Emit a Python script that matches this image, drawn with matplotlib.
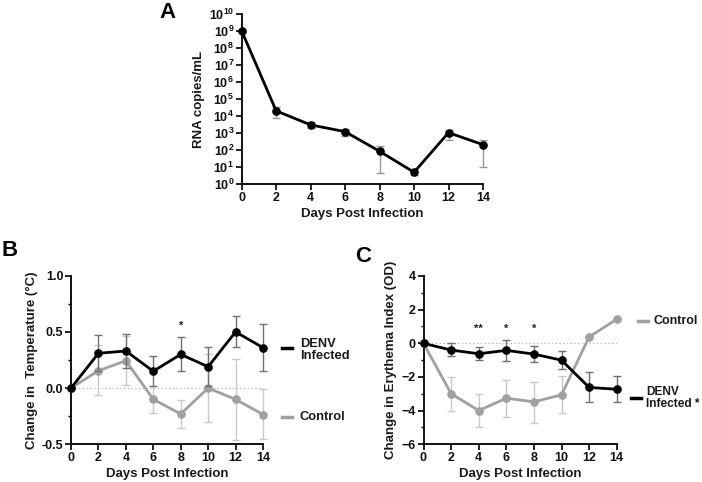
import numpy as np
import matplotlib
matplotlib.use("Agg")
import matplotlib.pyplot as plt
from matplotlib.lines import Line2D
from matplotlib.ticker import FixedLocator, MultipleLocator

plt.rcParams['font.family'] = ['Liberation Sans', 'DejaVu Sans']
plt.rcParams['font.weight'] = 'bold'
plt.rcParams['mathtext.fontset'] = 'custom'
plt.rcParams['mathtext.rm'] = 'Liberation Sans:bold'
plt.rcParams['mathtext.bf'] = 'Liberation Sans:bold'

# ---------------- data ----------------
days = [0, 2, 4, 6, 8, 10, 12, 14]

# Panel A: viral RNA
rna = [1e9, 2.0e4, 3.0e3, 1.2e3, 84, 4.9, 1.05e3, 205]
rna_hi = [1e9, 3.4e4, 4.3e3, 1.75e3, 170, 6.6, 1.6e3, 400]
rna_lo = [1e9, 8.0e3, 2.1e3, 6.6e2, 4.4, 3.5, 4.0e2, 10]

# Panel B: temperature change
temp_denv = [0, 0.31, 0.33, 0.15, 0.30, 0.19, 0.50, 0.36]
temp_denv_hi = [0, 0.47, 0.485, 0.285, 0.455, 0.365, 0.645, 0.573]
temp_denv_lo = [0, 0.15, 0.18, 0.02, 0.148, 0.02, 0.362, 0.148]
temp_ctrl = [0, 0.155, 0.243, -0.10, -0.23, 0.0, -0.10, -0.235]
temp_ctrl_hi = [0, 0.38, 0.46, 0.02, -0.107, 0.30, 0.26, -0.01]
temp_ctrl_lo = [0, -0.065, 0.027, -0.225, -0.353, -0.30, -0.46, -0.45]
temp_star_days = [8]
temp_star_text = ['*']
temp_star_y = [0.55]

# Panel C: erythema index change
ery_denv = [0, -0.40, -0.62, -0.42, -0.64, -1.0, -2.62, -2.73]
ery_denv_hi = [0, 0.04, -0.20, 0.20, -0.14, -0.46, -1.73, -1.97]
ery_denv_lo = [0, -0.76, -0.98, -1.03, -1.13, -1.53, -3.46, -3.48]
ery_ctrl = [0, -2.99, -4.0, -3.26, -3.48, -3.06, 0.38, 1.43]
ery_ctrl_hi = [0, -1.99, -3.02, -2.19, -2.31, -1.97, 0.38, 1.43]
ery_ctrl_lo = [0, -4.0, -4.96, -4.4, -4.72, -4.16, 0.38, 1.43]
ery_star_days = [4, 6, 8]
ery_star_text = ['**', '*', '*']
ery_star_y = [0.85, 0.85, 0.85]

xticks = [0, 2, 4, 6, 8, 10, 12, 14]
xlabel = 'Days Post Infection'

# ---------------- figure ----------------
W, H = 702, 482
fig = plt.figure(figsize=(W / 100, H / 100), dpi=100)

def add_ax(left, right, top, bottom):
    return fig.add_axes([left / W, 1 - bottom / H, (right - left) / W, (bottom - top) / H])

BLACK = '#000000'
GRAY = '#a0a0a0'
DERR = '#707070'
CERR = '#c8c8c8'
TXT = '#1a1a1a'
MS = 5.2

def style(ax):
    for s in ['top', 'right']:
        ax.spines[s].set_visible(False)
    for s in ['left', 'bottom']:
        ax.spines[s].set_linewidth(1.4)
        ax.spines[s].set_color('#111111')
    ax.tick_params(axis='both', which='major', length=4, width=1.3, direction='out',
                   labelsize=9, colors='#111111', pad=1.5)
    ax.tick_params(axis='both', which='minor', length=2.5, width=1.0, direction='out')
    ax.set_xlim(0, 14)
    ax.xaxis.set_major_locator(FixedLocator(xticks))
    ax.set_xlabel(xlabel, fontsize=9.5, fontweight='bold', color=TXT, labelpad=3)
    for lab in ax.get_xticklabels() + ax.get_yticklabels():
        lab.set_fontweight('bold')

def errbars(ax, y, hi, lo, color, z):
    y = np.array(y); hi = np.array(hi); lo = np.array(lo)
    ax.errorbar(days, y, yerr=[y - lo, hi - y], fmt='none', ecolor=color,
                elinewidth=1.0, capsize=3, capthick=1.0, zorder=z, clip_on=False)

# ---- Panel A ----
axA = add_ax(241.7, 483, 14, 184)
axA.set_yscale('log')
axA.set_ylim(1, 1e10)
errbars(axA, rna, rna_hi, rna_lo, '#999999', 2)
axA.plot(days, rna, color=BLACK, lw=2.0, marker='o', ms=MS, zorder=3, clip_on=False)
axA.yaxis.set_major_locator(FixedLocator([10.0 ** k for k in range(11)]))
axA.yaxis.set_minor_locator(FixedLocator([]))
axA.set_yticklabels([r'$\mathbf{10^{%d}}$' % k for k in range(11)])
style(axA)
axA.set_ylabel('RNA copies/mL', fontsize=9.5, fontweight='bold', color=TXT, labelpad=3)
fig.text(168 / W, 1 - 13 / H, 'A', fontsize=16, fontweight='bold', ha='center', va='center')

# ---- Panel B ----
axB = add_ax(71, 263, 275.7, 444.3)
axB.set_ylim(-0.5, 1.0)
axB.axhline(0, color='#b0b0b0', lw=0.9, ls=(0, (1, 2)), zorder=1)
errbars(axB, temp_ctrl, temp_ctrl_hi, temp_ctrl_lo, CERR, 2)
axB.plot(days, temp_ctrl, color=GRAY, lw=2.0, marker='o', ms=MS, zorder=3, clip_on=False)
errbars(axB, temp_denv, temp_denv_hi, temp_denv_lo, DERR, 4)
axB.plot(days, temp_denv, color=BLACK, lw=2.0, marker='o', ms=MS, zorder=5, clip_on=False)
for d, t, yy in zip(temp_star_days, temp_star_text, temp_star_y):
    axB.text(d, yy, t, ha='center', va='center', fontsize=8, color='#222222')
axB.yaxis.set_major_locator(FixedLocator([-0.5, 0.0, 0.5, 1.0]))
axB.yaxis.set_minor_locator(FixedLocator([-0.25, 0.25, 0.75]))
axB.set_yticklabels(['-0.5', '0.0', '0.5', '1.0'])
style(axB)
axB.set_ylabel('Change in  Temperature (\u00b0C)', fontsize=9.5, fontweight='bold', color=TXT, labelpad=3)
fig.text(10 / W, 1 - 250 / H, 'B', fontsize=16, fontweight='bold', ha='center', va='center')

# legend B
fig.add_artist(Line2D([282 / W, 292 / W], [1 - 348 / H, 1 - 348 / H], color=BLACK, lw=2.5))
fig.text(300 / W, 1 - 350 / H, 'DENV\nInfected', fontsize=9.3, fontweight='bold', color=TXT,
         ha='left', va='center', linespacing=1.05)
fig.add_artist(Line2D([282 / W, 292 / W], [1 - 417 / H, 1 - 417 / H], color=GRAY, lw=2.5))
fig.text(300 / W, 1 - 417 / H, 'Control', fontsize=9.3, fontweight='bold', color=TXT,
         ha='left', va='center')

# ---- Panel C ----
axC = add_ax(423.5, 616.7, 276, 444.3)
axC.set_ylim(-6, 4)
axC.axhline(0, color='#b0b0b0', lw=0.9, ls=(0, (1, 2)), zorder=1)
errbars(axC, ery_ctrl, ery_ctrl_hi, ery_ctrl_lo, CERR, 2)
axC.plot(days, ery_ctrl, color=GRAY, lw=2.0, marker='o', ms=MS, zorder=3, clip_on=False)
errbars(axC, ery_denv, ery_denv_hi, ery_denv_lo, DERR, 4)
axC.plot(days, ery_denv, color=BLACK, lw=2.0, marker='o', ms=MS, zorder=5, clip_on=False)
for d, t, yy in zip(ery_star_days, ery_star_text, ery_star_y):
    axC.text(d, yy, t, ha='center', va='center', fontsize=8, color='#222222')
axC.yaxis.set_major_locator(MultipleLocator(2))
axC.yaxis.set_minor_locator(FixedLocator([-5, -3, -1, 1, 3]))
style(axC)
axC.set_ylabel('Change in Erythema Index (OD)', fontsize=9.5, fontweight='bold', color=TXT, labelpad=3)
fig.text(363 / W, 1 - 256 / H, 'C', fontsize=16, fontweight='bold', ha='center', va='center')

# legend C
fig.add_artist(Line2D([638 / W, 648 / W], [1 - 321 / H, 1 - 321 / H], color=GRAY, lw=2.5))
fig.text(653 / W, 1 - 321 / H, 'Control', fontsize=9.0, fontweight='bold', color=TXT,
         ha='left', va='center')
fig.add_artist(Line2D([631 / W, 641 / W], [1 - 398 / H, 1 - 398 / H], color=BLACK, lw=2.5))
fig.text(646 / W, 1 - 398 / H, 'DENV\nInfected *', fontsize=8.6, fontweight='bold', color=TXT,
         ha='left', va='center', linespacing=1.1)

fig.savefig('out.png', dpi=100, facecolor='white')
